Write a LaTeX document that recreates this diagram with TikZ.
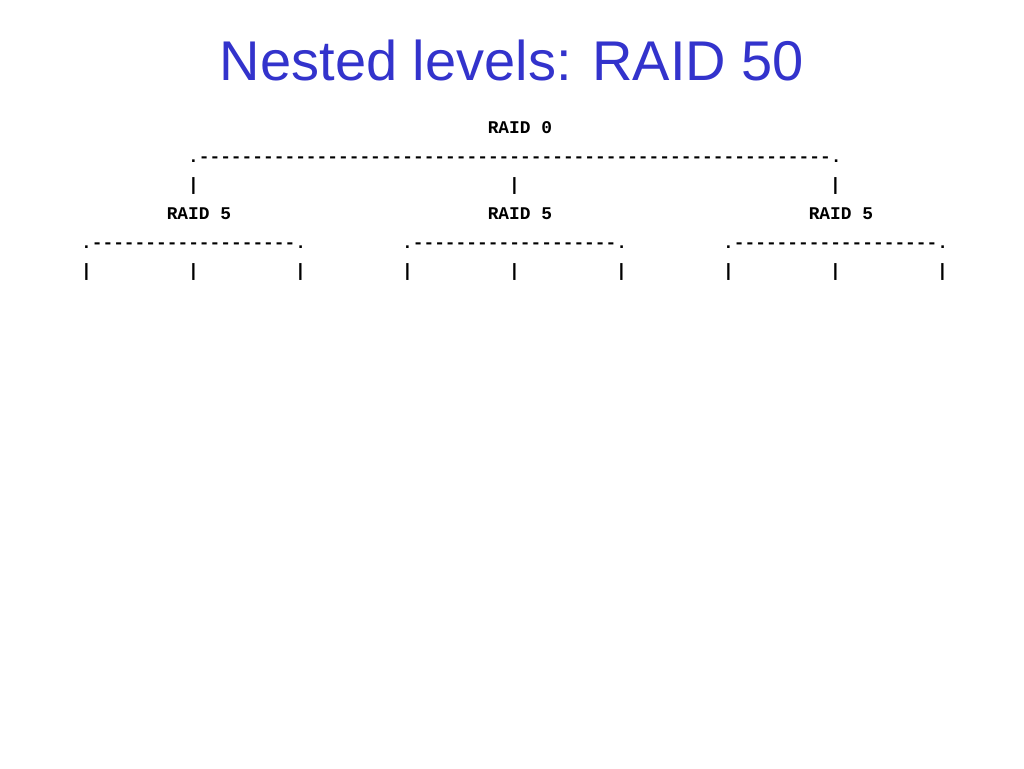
\documentclass[tikz,border=0pt]{standalone}
\usepackage{fontspec}
\setmainfont{Liberation Sans}
\newfontfamily\asciifont{Liberation Mono}
\definecolor{titleblue}{RGB}{51,51,204}
\tikzset{
  asc/.style={font=\asciifont\bfseries\fontsize{17.85pt}{20pt}\selectfont, inner sep=0pt, outer sep=0pt, anchor=base west},
  ttl/.style={font=\fontsize{56pt}{60pt}\selectfont, text=titleblue, inner sep=0pt, anchor=base}
}
\newcommand{\cx}[1]{\fpeval{81.15+10.7*(#1)}pt}
\newcommand{\ry}[1]{\fpeval{768-(#1)}pt}
\begin{document}
\begin{tikzpicture}[x=1pt,y=1pt]
\fill[white] (0,0) rectangle (1024,768);
\useasboundingbox (0,0) rectangle (1024,768);
\node[ttl] (title) at (512,{768-81}) {Nested levels: RAID 50};
% level RAID 0
\node[asc] (raid0) at ({81.15+10.7*38},{768-133.5}) {RAID 0};
\node[asc] (topline) at ({81.15+10.7*10},{768-162.2}) {.-----------------------------------------------------------.};
\foreach \c/\n in {10/a,40/b,70/c}{
  \node[asc] (tbar\n) at ({81.15+10.7*\c},{768-190.9}) {|};
}
% level RAID 5
\foreach \c/\n in {0/a,30/b,60/c}{
  \node[asc] (raid5\n) at ({81.15+10.7*(\c+8)},{768-219.6}) {RAID 5};
  \node[asc] (sub\n) at ({81.15+10.7*\c},{768-248.3}) {.-------------------.};
  \node[asc] (bl\n) at ({81.15+10.7*\c},{768-277}) {|};
  \node[asc] (bm\n) at ({81.15+10.7*(\c+10)},{768-277}) {|};
  \node[asc] (br\n) at ({81.15+10.7*(\c+20)},{768-277}) {|};
}
\end{tikzpicture}
\end{document}
